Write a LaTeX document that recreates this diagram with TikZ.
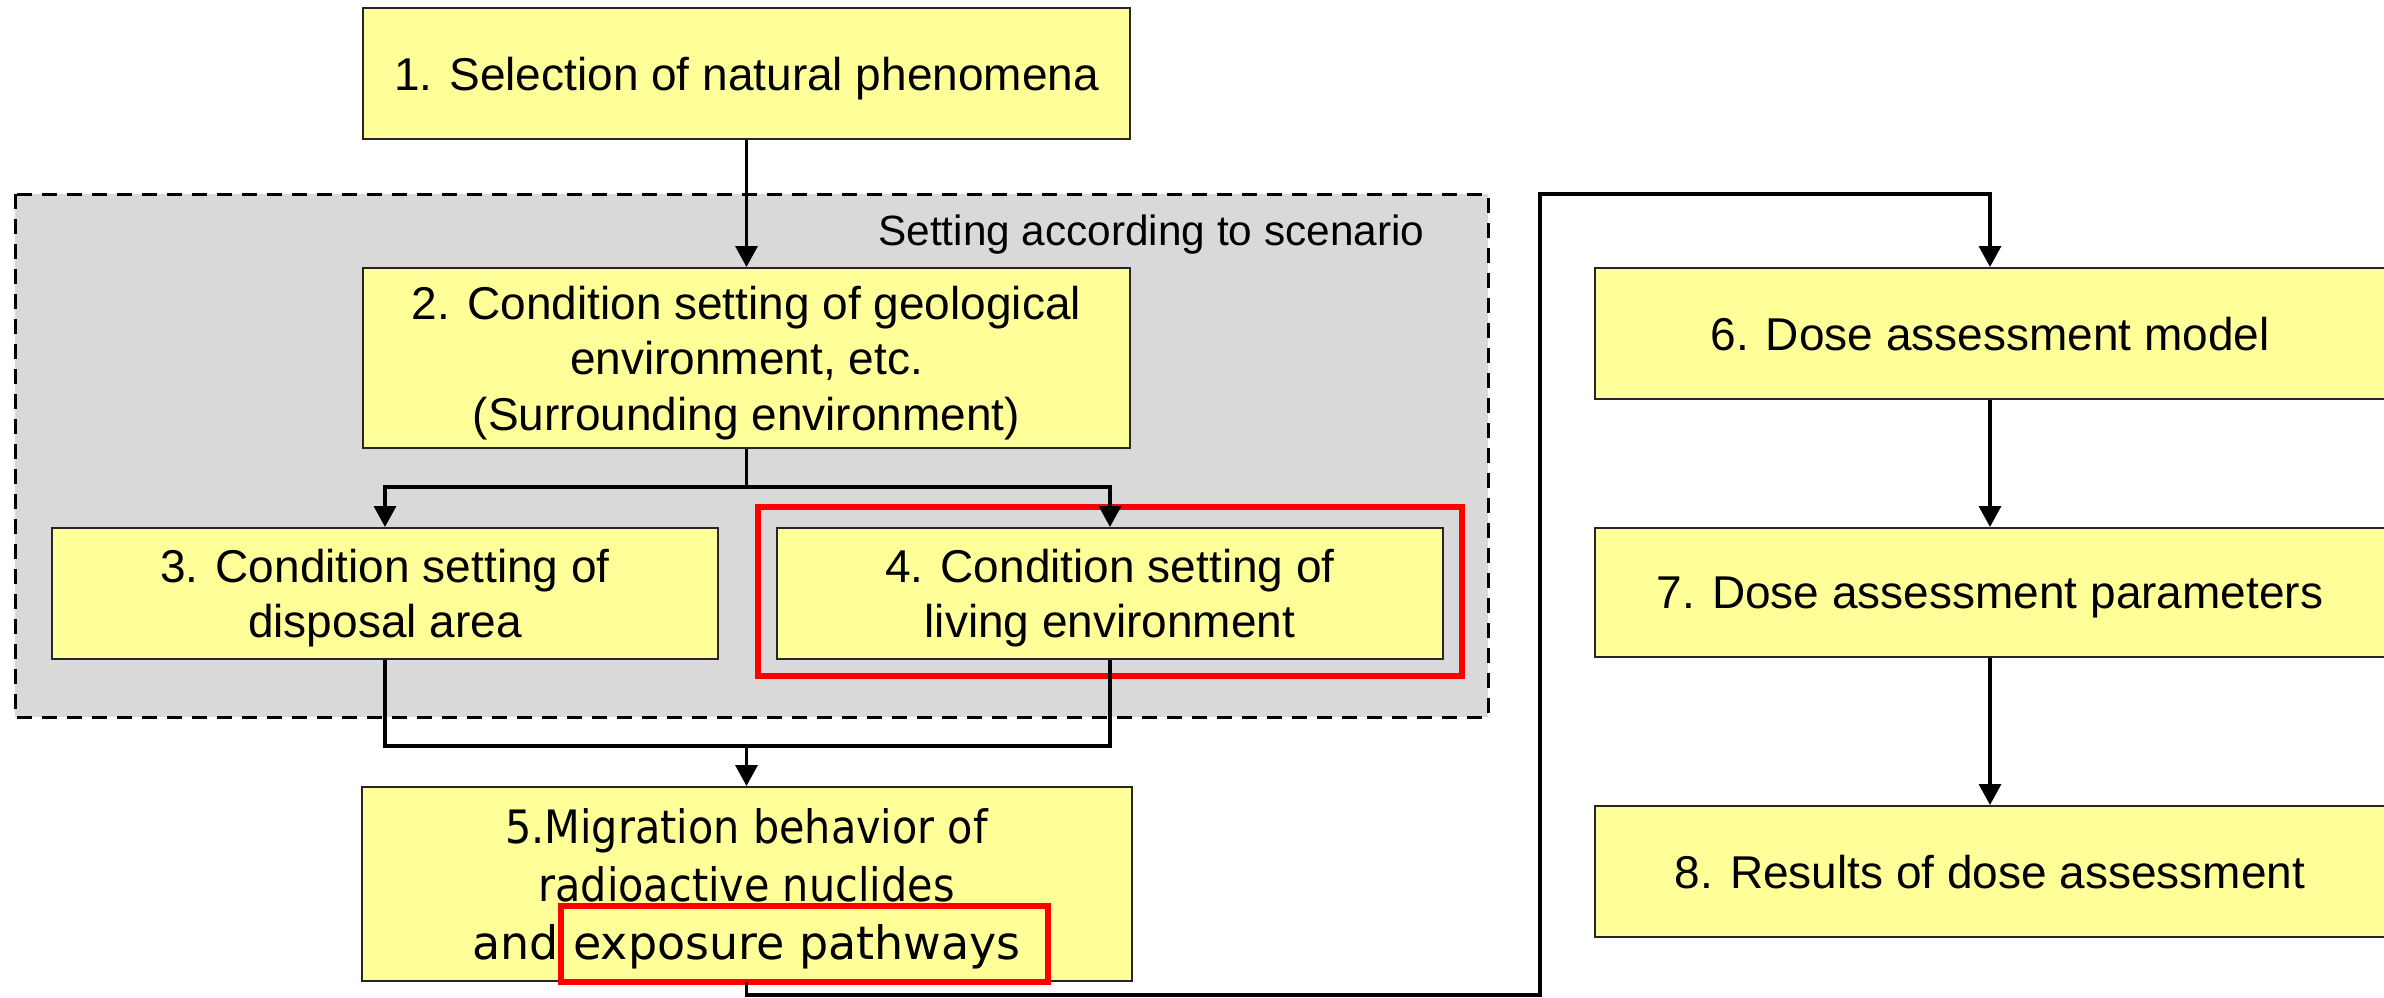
\documentclass[tikz,border=0pt]{standalone}
\usepackage{fontspec}
\setmainfont{Liberation Sans}
\newfontfamily\dejavu{DejaVu Sans}
\newfontfamily\dejavucond[FakeStretch=0.9]{DejaVu Sans}
\usetikzlibrary{arrows.meta}
\definecolor{boxyellow}{RGB}{255,255,153}
\definecolor{regiongray}{RGB}{217,217,217}
\definecolor{hlred}{RGB}{255,0,0}
\begin{document}
\begin{tikzpicture}[x=0.3pt,y=-0.3pt,
  stepbox/.style={draw=black!85, line width=0.6pt, fill=boxyellow, align=center, inner sep=0pt,
    text depth=0pt, font=\fontsize{13.8}{16.6}\selectfont},
  conn/.style={line width=1pt, draw=black},
  arr/.style={conn, -{Triangle[length=6.3pt,width=6.6pt]}},
  hl/.style={draw=hlred, line width=1.8pt},
  region/.style={draw=black, fill=regiongray, line width=0.9pt, dash pattern=on 4.5pt off 3pt},
]
\clip (0,0) rectangle (2384,997);
\fill[white] (0,0) rectangle (2384,997);
% scenario region
\draw[region] (15,194) rectangle (1488,717);
\node[anchor=base east, inner sep=0pt, font=\fontsize{12.7}{15}\selectfont] (scen) at (1425,245) {Setting according to scenario};
% boxes
\node[stepbox, minimum width=767*0.3pt, minimum height=131*0.3pt] (b1) at (746.5,73.5) {1. Selection of natural phenomena};
\node[stepbox, minimum width=767*0.3pt, minimum height=180*0.3pt] (b2) at (746.5,358) {2. Condition setting of geological\\environment, etc.\\(Surrounding environment)};
\node[stepbox, minimum width=666*0.3pt, minimum height=131*0.3pt] (b3) at (385,593.5) {3. Condition setting of\\disposal area};
\node[stepbox, minimum width=666*0.3pt, minimum height=131*0.3pt] (b4) at (1110,593.5) {4. Condition setting of\\living environment};
\node[stepbox, minimum width=770*0.3pt, minimum height=194*0.3pt, font=\dejavucond\fontsize{13.8}{17.5}\selectfont] (b5) at (746.5,884) {5.Migration behavior of\\radioactive nuclides\\{\dejavu and exposure pathways}};
\node[stepbox, minimum width=790*0.3pt, minimum height=131*0.3pt] (b6) at (1990,333.5) {6. Dose assessment model};
\node[stepbox, minimum width=790*0.3pt, minimum height=129*0.3pt] (b7) at (1990,592.5) {7. Dose assessment parameters};
\node[stepbox, minimum width=790*0.3pt, minimum height=131*0.3pt] (b8) at (1990,871.5) {8. Results of dose assessment};
% highlights
\draw[hl] (758,507) rectangle (1462,676);
\draw[hl] (561,906) rectangle (1048,982);
% connectors
\draw[arr] (b1) -- (b2);
\coordinate (split) at (746.5,487);
\draw[conn] (b2.south) -- (split);
\draw[arr] (split) -| (b3.north);
\draw[arr] (split) -| (b4.north);
\coordinate (merge) at (746.5,746);
\draw[conn] (b3.south) |- (merge);
\draw[conn] (b4.south) |- (merge);
\draw[arr] (merge) -- (b5.north);
\coordinate (c1) at (746.5,995);
\coordinate (c2) at (1540,995);
\coordinate (c3) at (1540,194);
\draw[arr] (b5.south) -- (c1) -- (c2) -- (c3) -| (b6.north);
\draw[arr] (b6) -- (b7);
\draw[arr] (b7) -- (b8);
\end{tikzpicture}
\end{document}
